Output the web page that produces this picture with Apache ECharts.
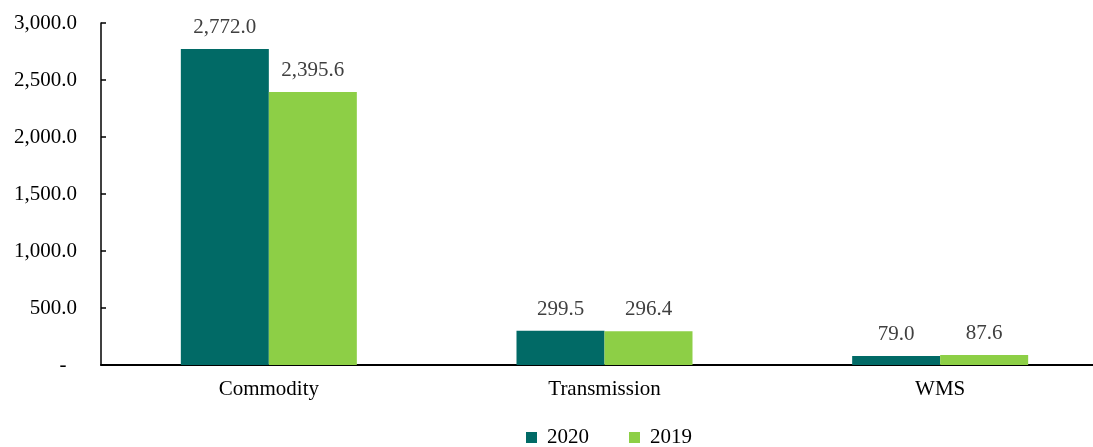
<!DOCTYPE html>
<html lang="en">
<head>
    <meta charset="UTF-8">
    <script src="https://cdn.jsdelivr.net/npm/echarts@6/dist/echarts.min.js"></script>
    <style>
        html, body { margin: 0; padding: 0; background: #fff; overflow: hidden; }
        /* plot area runs past the right edge of the window, as in the original */
        #chart { width: 1108px; height: 447px; }
    </style>
</head>
<body>
<div id="chart"></div>
<script type="text/javascript">
    var categories = ['Commodity', 'Transmission', 'WMS'];
    var values2020 = [2772.0, 299.5, 79.0];
    var values2019 = [2395.6, 296.4, 87.6];
    var yTicks = { min: 0, max: 3000, interval: 500 };

    var font = '"Liberation Serif", "Times New Roman", serif';

    function fmt(v) {
        if (v === 0) return '-  ';
        return v.toLocaleString('en-US', { minimumFractionDigits: 1, maximumFractionDigits: 1 });
    }

    var chart = echarts.init(document.getElementById('chart'));
    chart.setOption({
        animation: false,
        textStyle: { fontFamily: font },
        grid: { left: 101, top: 23, right: 0, bottom: 82, containLabel: false },
        legend: {
            bottom: -6,
            left: 521,
            itemWidth: 11,
            itemHeight: 11,
            itemGap: 40,
            icon: 'rect',
            textStyle: { fontFamily: font, fontSize: 21, color: '#000', padding: [0, 0, 0, 5] },
            data: ['2020', '2019']
        },
        xAxis: {
            type: 'category',
            data: categories,
            axisLine: { lineStyle: { color: '#000', width: 2 } },
            axisTick: { show: false },
            axisLabel: { color: '#000', fontSize: 21, margin: 14, fontFamily: font }
        },
        yAxis: {
            type: 'value',
            min: yTicks.min,
            max: yTicks.max,
            interval: yTicks.interval,
            splitLine: { show: false },
            axisLine: { show: true, lineStyle: { color: '#000', width: 1.5 } },
            axisTick: { show: true, inside: true, length: 5, lineStyle: { color: '#000', width: 1.5 } },
            axisLabel: { color: '#000', fontSize: 21, margin: 24, fontFamily: font, formatter: fmt }
        },
        series: [
            {
                name: '2020',
                type: 'bar',
                data: values2020,
                barWidth: 88,
                barGap: '0%',
                itemStyle: { color: '#016a66' },
                label: { show: true, position: 'top', distance: 11, color: '#404040', fontSize: 21, fontFamily: font, formatter: function (p) { return fmt(p.value); } }
            },
            {
                name: '2019',
                type: 'bar',
                data: values2019,
                barWidth: 88,
                barGap: '0%',
                itemStyle: { color: '#8dcf46' },
                label: { show: true, position: 'top', distance: 11, color: '#404040', fontSize: 21, fontFamily: font, formatter: function (p) { return fmt(p.value); } }
            }
        ]
    });
</script>
</body>
</html>
